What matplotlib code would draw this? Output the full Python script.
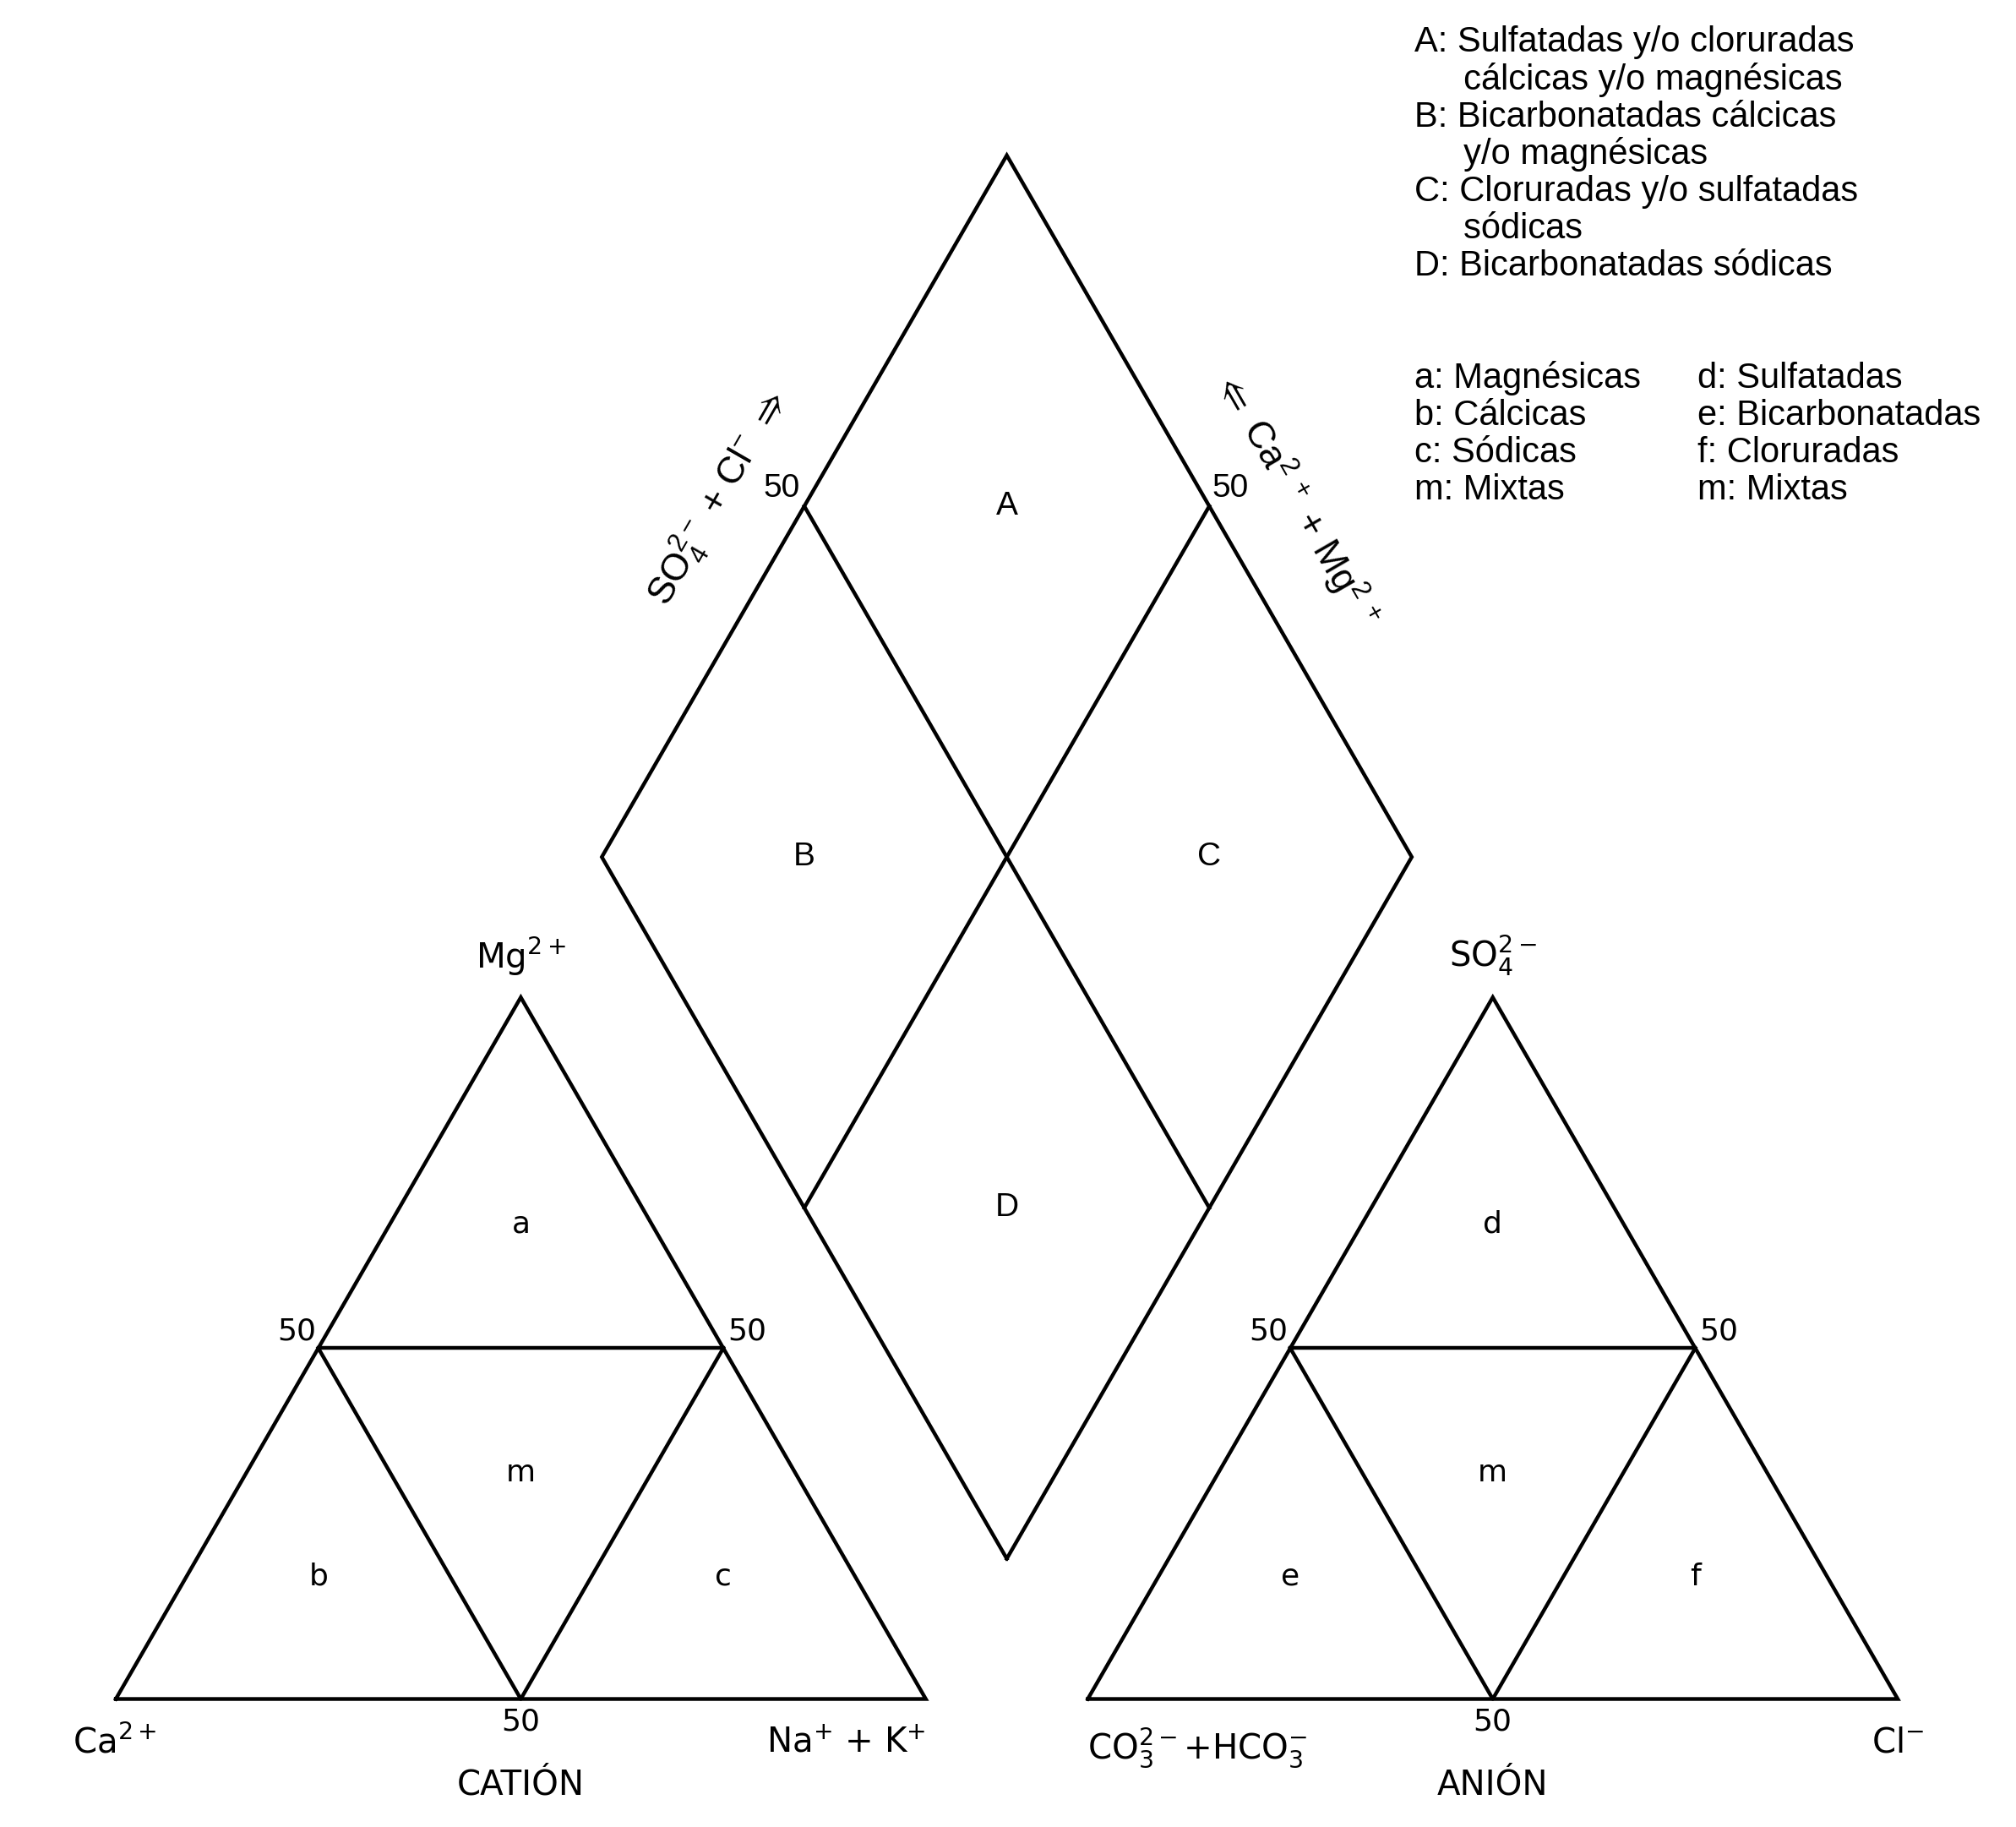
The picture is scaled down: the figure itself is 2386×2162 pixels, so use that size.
import numpy as np
import matplotlib
matplotlib.use("Agg")
import matplotlib.pyplot as plt

plt.rcParams['mathtext.fontset'] = 'custom'
plt.rcParams['mathtext.rm'] = 'Liberation Sans'
plt.rcParams['mathtext.it'] = 'Liberation Sans'
plt.rcParams['mathtext.bf'] = 'Liberation Sans:bold'
plt.rcParams['mathtext.fallback'] = 'stixsans'

# geometry of the Piper diagram (side of each triangle = 1)
side = 1.0
gap = 0.2
h = np.sqrt(3) / 2
split = 50  # % boundary between facies

cation_vertices = ["Ca$^{2+}$", "Mg$^{2+}$", "Na$^{+}$ + K$^{+}$"]
anion_vertices = ["CO$_3^{2-}$+HCO$_3^{-}$", "SO$_4^{2-}$", "Cl$^{-}$"]
cation_regions = ["a", "m", "b", "c"]
anion_regions = ["d", "m", "e", "f"]
diamond_regions = ["A", "B", "C", "D"]
diamond_axes = [r"SO$_4^{2-}$ + Cl$^{-}$ $\Rightarrow$", r"$\Leftarrow$ Ca$^{2\ +}$ + Mg$^{2\ +}$"]
titles = ["CATIÓN", "ANIÓN"]

legend_upper = ["A: Sulfatadas y/o cloruradas", "     cálcicas y/o magnésicas",
                "B: Bicarbonatadas cálcicas", "     y/o magnésicas",
                "C: Cloruradas y/o sulfatadas", "     sódicas",
                "D: Bicarbonatadas sódicas"]
legend_left = ["a: Magnésicas", "b: Cálcicas", "c: Sódicas", "m: Mixtas"]
legend_right = ["d: Sulfatadas", "e: Bicarbonatadas", "f: Cloruradas", "m: Mixtas"]


def tern(left, top, right, x0=0.0):
    # fractions (sum 1) -> x, y inside a triangle whose left corner is at x0
    return x0 + right + top / 2, top * h


def diam(camg, so4cl):
    bx, by = side + gap / 2, gap * h
    return bx + 0.5 * (so4cl - camg), by + h * (so4cl + camg)


fig = plt.figure(figsize=(23.86, 21.62), dpi=100)
ax = fig.add_axes([0, 0, 1, 1])
ax.set_xlim(-0.143, 2.346)
ax.set_ylim(-0.158, 2.097)
ax.axis('off')

lw = 3.2
s = split / 100
fs_lab = 29
fs_num = 26
fs_reg = 26
dv = dict(family='DejaVu Sans', math_fontfamily='dejavusans')
ls = dict(family=['Liberation Sans', 'DejaVu Sans'], math_fontfamily='custom')

for k, x0 in enumerate([0.0, side + gap]):
    corners = [tern(1, 0, 0, x0), tern(0, 1, 0, x0), tern(0, 0, 1, x0)]
    xs = [c[0] for c in corners] + [corners[0][0]]
    ys = [c[1] for c in corners] + [corners[0][1]]
    ax.plot(xs, ys, color='black', lw=lw, solid_joinstyle='miter')
    m_l = tern(1 - s, s, 0, x0)
    m_r = tern(0, s, 1 - s, x0)
    m_b = tern(1 - s, 0, s, x0)
    ax.plot([m_l[0], m_r[0]], [m_l[1], m_r[1]], color='black', lw=lw)
    ax.plot([m_l[0], m_b[0], m_r[0]], [m_l[1], m_b[1], m_r[1]], color='black', lw=lw)

    names = cation_vertices if k == 0 else anion_vertices
    if k == 0:
        ax.text(corners[0][0] - 0.053, -0.033, names[0], ha='left', va='top', fontsize=fs_lab, **dv)
        ax.text(corners[2][0], -0.033, names[2], ha='right', va='top', fontsize=fs_lab, **dv)
    else:
        ax.text(corners[0][0], -0.033, names[0], ha='left', va='top', fontsize=fs_lab, **dv)
        ax.text(corners[2][0], -0.033, names[2], ha='center', va='top', fontsize=fs_lab, **dv)
    ax.text(corners[1][0], corners[1][1] + 0.024, names[1], ha='center', va='bottom', fontsize=fs_lab, **dv)
    ax.text(m_b[0], -0.01, str(split), ha='center', va='top', fontsize=fs_num, **dv)
    ax.text(m_l[0] - 0.003, m_l[1] + 0.003, str(split), ha='right', va='bottom', fontsize=fs_num, **dv)
    ax.text(m_r[0] + 0.005, m_r[1] + 0.003, str(split), ha='left', va='bottom', fontsize=fs_num, **dv)
    ax.text(m_b[0], -0.086, titles[k], ha='center', va='top', fontsize=fs_lab, **dv)

    regs = cation_regions if k == 0 else anion_regions
    rx = [0.5, 0.5, 0.25, 0.75]
    ry = [0.586, 0.279, 0.151, 0.151]
    for lab, x, y in zip(regs, rx, ry):
        ax.text(x0 + x, y, lab, ha='center', va='center', fontsize=fs_reg, **dv)

# diamond
d_pts = [diam(0, 0), diam(1, 0), diam(1, 1), diam(0, 1), diam(0, 0)]
ax.plot([p[0] for p in d_pts], [p[1] for p in d_pts], color='black', lw=lw, solid_joinstyle='miter')
for a, b in [(diam(s, 0), diam(s, 1)), (diam(0, s), diam(1, s))]:
    ax.plot([a[0], b[0]], [a[1], b[1]], color='black', lw=lw)

p = diam(1, s)
ax.text(p[0] - 0.005, p[1] + 0.003, str(split), ha='right', va='bottom', fontsize=fs_num + 2, **ls)
p = diam(s, 1)
ax.text(p[0] + 0.003, p[1] + 0.003, str(split), ha='left', va='bottom', fontsize=fs_num + 2, **ls)

reg_pos = [diam(0.75, 0.75), diam(0.75, 0.25), diam(0.25, 0.75), diam(0.25, 0.25)]
for lab, p in zip(diamond_regions, reg_pos):
    ax.text(p[0], p[1], lab, ha='center', va='center', fontsize=fs_reg + 2, **ls)

p1 = diam(1, s - 0.045)
ax.text(p1[0] - 0.097 * h, p1[1] + 0.097 * 0.5, diamond_axes[0], rotation=60, ha='center', va='center',
        rotation_mode='anchor', fontsize=32, **ls)
p2 = diam(s - 0.045, 1)
ax.text(p2[0] + 0.097 * h, p2[1] + 0.097 * 0.5, diamond_axes[1], rotation=-60, ha='center', va='center',
        rotation_mode='anchor', fontsize=32, **ls)

# legend text
lx = (1100 - 90) / 630
ly0 = (1321 - 33) / 630
dy = 29 / 630
fs_leg = 30
for i, t in enumerate(legend_upper):
    ax.text(lx, ly0 - i * dy, t, ha='left', va='center', fontsize=fs_leg, family='Liberation Sans')
ly1 = (1321 - 294) / 630
lx2 = (1320 - 90) / 630
for i, (t1, t2) in enumerate(zip(legend_left, legend_right)):
    ax.text(lx, ly1 - i * dy, t1, ha='left', va='center', fontsize=fs_leg, family='Liberation Sans')
    ax.text(lx2, ly1 - i * dy, t2, ha='left', va='center', fontsize=fs_leg, family='Liberation Sans')

fig.savefig("out.png", dpi=100, facecolor='white')
